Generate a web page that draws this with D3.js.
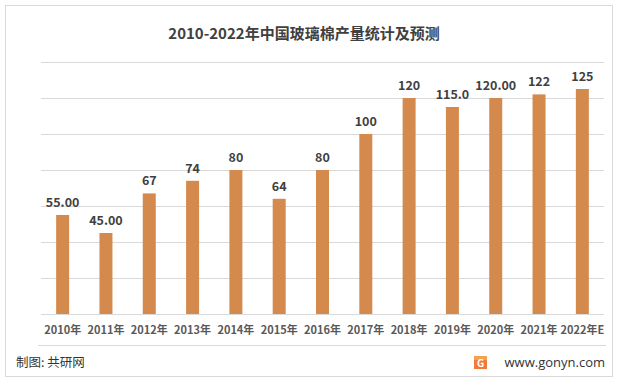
<!DOCTYPE html>
<html>
<head>
<meta charset="utf-8">
<script src="https://cdn.jsdelivr.net/npm/d3@7"></script>
<style>
  body { margin: 0; background: #fff; }
  text { font-family: "Noto Sans CJK SC", "Noto Sans", sans-serif; }
</style>
</head>
<body>
<script>
const width = 619;
const height = 384;

// data
const years = ['2010年', '2011年', '2012年', '2013年', '2014年', '2015年', '2016年',
    '2017年', '2018年', '2019年', '2020年', '2021年', '2022年E'];
const output = [55, 45, 67, 74, 80, 64, 80, 100, 120, 115, 120, 122, 125];
const valueLabels = ['55.00', '45.00', '67', '74', '80', '64', '80', '100', '120', '115.0', '120.00', '122', '125'];
const yTicks = [0, 20, 40, 60, 80, 100, 120, 140];

const margin = { top: 62, right: 15, bottom: 70, left: 41 };

const svg = d3.select('body').append('svg')
    .attr('width', width)
    .attr('height', height);

// outer frame
svg.append('rect')
    .attr('x', 5.5).attr('y', 5.5)
    .attr('width', 607).attr('height', 371)
    .attr('fill', 'none')
    .attr('stroke', '#d9d9d9');

const x = d3.scaleBand()
    .domain(years)
    .range([margin.left, width - margin.right])
    .paddingInner(0.7)
    .paddingOuter(0.35);

const y = d3.scaleLinear()
    .domain([0, 140])
    .range([height - margin.bottom, margin.top]);

// gridlines
svg.append('g')
    .selectAll('line')
    .data(yTicks)
    .enter()
    .append('line')
    .attr('x1', margin.left)
    .attr('x2', width - margin.right)
    .attr('y1', d => Math.round(y(d)) + 0.5)
    .attr('y2', d => Math.round(y(d)) + 0.5)
    .attr('stroke', '#d9d9d9');

// title
svg.append('text')
    .attr('x', 304)
    .attr('y', 39)
    .attr('text-anchor', 'middle')
    .attr('font-size', 15)
    .attr('font-weight', 'bold')
    .attr('fill', '#404040')
    .text('2010-2022年中国玻璃棉产量统计及预测');

// bars
svg.selectAll('rect.bar')
    .data(output)
    .enter()
    .append('rect')
    .attr('class', 'bar')
    .attr('x', (d, i) => x(years[i]))
    .attr('y', d => y(d))
    .attr('width', x.bandwidth())
    .attr('height', d => y(0) - y(d))
    .attr('fill', '#d48a4c');

// value labels
svg.selectAll('text.val')
    .data(output)
    .enter()
    .append('text')
    .attr('class', 'val')
    .attr('x', (d, i) => x(years[i]) + x.bandwidth() / 2)
    .attr('y', d => y(d) - 8)
    .attr('text-anchor', 'middle')
    .attr('font-size', 12.5)
    .attr('font-weight', 'bold')
    .attr('fill', '#404040')
    .text((d, i) => valueLabels[i]);

// x axis labels
const xAxis = d3.axisBottom(x).tickSize(0).tickPadding(12);
const gx = svg.append('g')
    .attr('transform', `translate(0,${y(0)})`)
    .call(xAxis);
gx.select('.domain').remove();
gx.selectAll('text')
    .attr('font-size', 11)
    .attr('font-weight', 'bold')
    .attr('fill', '#595959')
    .style('font-family', '"Noto Sans CJK SC", sans-serif');

// footer separator
svg.append('line')
    .attr('x1', 38).attr('x2', 606)
    .attr('y1', 345.5).attr('y2', 345.5)
    .attr('stroke', '#d9d9d9');

svg.append('text')
    .attr('x', 16)
    .attr('y', 367)
    .attr('font-size', 12.5)
    .attr('fill', '#333')
    .text('制图: 共研网');

// logo
const logo = svg.append('g').attr('transform', 'translate(474,356)');
logo.append('rect').attr('width', 13).attr('height', 13).attr('fill', '#f07a3a');
logo.append('rect').attr('width', 13).attr('height', 4).attr('fill', '#f5a04f');
logo.append('text')
    .attr('x', 6.5).attr('y', 11)
    .attr('text-anchor', 'middle')
    .attr('font-size', 10)
    .attr('font-weight', 'bold')
    .attr('fill', '#fff')
    .text('G');

svg.append('text')
    .attr('x', 605)
    .attr('y', 367)
    .attr('text-anchor', 'end')
    .attr('font-size', 13)
    .attr('fill', '#333')
    .style('font-family', '"Open Sans", sans-serif')
    .text('www.gonyn.com');
</script>
</body>
</html>
